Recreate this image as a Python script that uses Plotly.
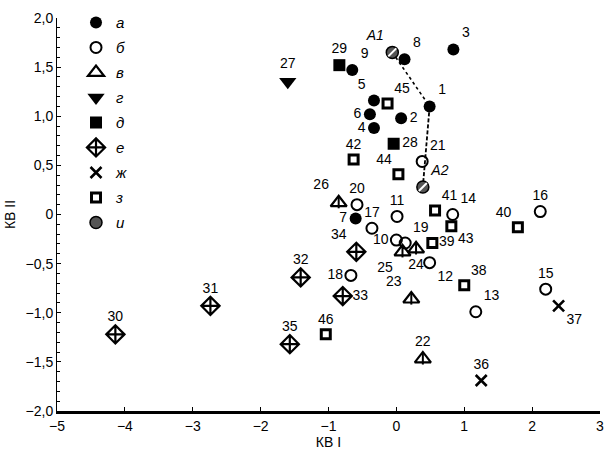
import plotly.graph_objects as go

# ---- data (КВ I, КВ II) ----
# а : filled circles
a_lab = ["1", "2", "3", "4", "5", "6", "7", "8", "9"]
a_x = [0.49, 0.07, 0.84, -0.33, -0.33, -0.39, -0.60, 0.12, -0.65]
a_y = [1.10, 0.98, 1.68, 0.88, 1.16, 1.02, -0.04, 1.58, 1.47]
# б : open circles
b_lab = ["10", "11", "12", "13", "14", "15", "16", "17", "18", "19", "20", "21"]
b_x = [0.00, 0.01, 0.49, 1.17, 0.83, 2.20, 2.12, -0.36, -0.67, 0.13, -0.58, 0.38]
b_y = [-0.26, -0.02, -0.49, -0.99, 0.00, -0.76, 0.03, -0.14, -0.62, -0.29, 0.10, 0.54]
# в : triangles with bar
v_lab = ["22", "23", "24", "25", "26"]
v_x = [0.39, 0.22, 0.29, 0.09, -0.85]
v_y = [-1.47, -0.86, -0.35, -0.38, 0.12]
# г : filled down triangles
g_lab = ["27"]
g_x = [-1.60]
g_y = [1.35]
# д : filled squares
d_lab = ["28", "29"]
d_x = [-0.04, -0.84]
d_y = [0.72, 1.52]
# е : diamonds with cross
e_lab = ["30", "31", "32", "33", "34", "35"]
e_x = [-4.14, -2.74, -1.41, -0.79, -0.59, -1.57]
e_y = [-1.22, -0.93, -0.64, -0.83, -0.38, -1.32]
# ж : crosses
zh_lab = ["36", "37"]
zh_x = [1.25, 2.39]
zh_y = [-1.69, -0.93]
# з : open squares
z_lab = ["38", "39", "40", "41", "42", "43", "44", "45", "46"]
z_x = [1.00, 0.53, 1.79, 0.57, -0.63, 0.81, 0.03, -0.13, -1.04]
z_y = [-0.72, -0.29, -0.13, 0.04, 0.56, -0.12, 0.41, 1.13, -1.22]
# и : hatched circles
i_lab = ["A1", "A2"]
i_x = [-0.06, 0.39]
i_y = [1.65, 0.28]

x_ticks = [-5, -4, -3, -2, -1, 0, 1, 2, 3]
x_ticktext = ["\u22125", "\u22124", "\u22123", "\u22122", "\u22121", "0", "1", "2", "3"]
y_ticks = [-2.0, -1.5, -1.0, -0.5, 0.0, 0.5, 1.0, 1.5, 2.0]
y_ticktext = ["\u22122,0", "\u22121,5", "\u22121,0", "\u22120,5", "0", "0,5", "1,0", "1,5", "2,0"]

# ---- label placement (style) ----
a_pos = ["top right", "middle right", "top right", "middle left", "top left",
         "middle left", "middle left", "top right", "top right"]
b_pos = ["middle left", "top center", "bottom right", "top right", "top right", "top center",
         "top center", "top center", "middle left", "top right", "top center", "top right"]
v_pos = ["top center", "top left", "bottom center", "bottom left", "top left"]
g_pos = ["top center"]
d_pos = ["middle right", "top center"]
e_pos = ["top center", "top center", "top center", "middle right", "top left", "top center"]
zh_pos = ["top center", "bottom right"]
z_pos = ["top right", "middle right", "top left", "top right", "top center",
         "bottom right", "top left", "top right", "top center"]
i_pos = ["top left", "top right"]

FONT = "Liberation Sans, Arial, sans-serif"
fig = go.Figure()

# connecting lines A1 -> 1 -> A2
fig.add_trace(go.Scatter(x=[i_x[0], a_x[0]], y=[i_y[0], a_y[0]], mode="lines",
                         line=dict(color="black", width=1.6, dash="dot"),
                         showlegend=False, hoverinfo="skip"))
fig.add_trace(go.Scatter(x=[a_x[0], i_x[1]], y=[a_y[0], i_y[1]], mode="lines",
                         line=dict(color="black", width=1.8, dash="4px,2px"),
                         showlegend=False, hoverinfo="skip"))


def add(name, xs, ys, labs, pos, marker, group):
    fig.add_trace(go.Scatter(
        x=xs, y=ys, text=labs, textposition=pos, mode="markers+text",
        name=name, legendgroup=group, marker=marker,
        textfont=dict(family=FONT, size=14, color="black"),
        cliponaxis=False))


add("<i>а</i>", a_x, a_y, a_lab, a_pos,
    dict(symbol="circle", size=12, color="black", line=dict(width=0)), "a")
add("<i>б</i>", b_x, b_y, b_lab, b_pos,
    dict(symbol="circle-open", size=11, color="black", line=dict(width=2)), "b")
add("<i>в</i>", v_x, v_y, v_lab, v_pos,
    dict(symbol="triangle-up-open", size=14, color="black", line=dict(width=2.2)), "c")
fig.add_trace(go.Scatter(x=v_x, y=v_y, mode="markers", showlegend=False, legendgroup="c",
                         marker=dict(symbol="line-ns-open", size=8, color="black",
                                     line=dict(width=2, color="black")), hoverinfo="skip"))
add("<i>г</i>", g_x, g_y, g_lab, g_pos,
    dict(symbol="triangle-down", size=15, color="black", line=dict(width=0)), "d")
add("<i>д</i>", d_x, d_y, d_lab, d_pos,
    dict(symbol="square", size=12, color="black", line=dict(width=0)), "e")
add("<i>е</i>", e_x, e_y, e_lab, e_pos,
    dict(symbol="diamond-cross-open", size=14, color="black", line=dict(width=2.2)), "f")
add("<i>ж</i>", zh_x, zh_y, zh_lab, zh_pos,
    dict(symbol="x-thin-open", size=11, color="black", line=dict(width=2.6)), "g")
add("<i>з</i>", z_x, z_y, z_lab, z_pos,
    dict(symbol="square-open", size=9, color="black", line=dict(width=3)), "h")
add("<i>и</i>", i_x, i_y, ["<i>" + s + "</i>" for s in i_lab], i_pos,
    dict(symbol="circle", size=12, color="#555555", line=dict(width=1.5, color="black")), "i")
fig.add_trace(go.Scatter(x=i_x, y=i_y, mode="markers", showlegend=False, legendgroup="i",
                         marker=dict(symbol="line-ne-open", size=8, color="white",
                                     line=dict(width=2, color="white")), hoverinfo="skip"))

fig.update_layout(
    width=606, height=460,
    margin=dict(l=57, r=6, t=11, b=49),
    paper_bgcolor="white", plot_bgcolor="white",
    font=dict(family=FONT, size=14, color="black"),
    showlegend=True,
    legend=dict(x=0.035, y=1.03, xanchor="left", yanchor="top", maxheight=460,
                bgcolor="rgba(0,0,0,0)", traceorder="grouped", tracegroupgap=2.5,
                font=dict(family=FONT, size=15, color="black"), itemwidth=30),
    xaxis=dict(range=[-5, 3], tickvals=x_ticks, ticktext=x_ticktext, automargin=False,
               showgrid=False, zeroline=False, showline=True, linecolor="black",
               linewidth=3, ticks="inside", ticklen=4, tickwidth=1, tickcolor="black",
               title=dict(text="КВ I", font=dict(size=14), standoff=3),
               tickfont=dict(size=14)),
    yaxis=dict(range=[-2, 2], tickvals=y_ticks, ticktext=y_ticktext, automargin=False,
               showgrid=False, zeroline=False, showline=True, linecolor="black",
               linewidth=1, ticks="inside", ticklen=4, tickwidth=1, tickcolor="black",
               minor=dict(dtick=0.1, ticks="inside", ticklen=3, tickcolor="black", showgrid=False),
               title=dict(text="КВ II", font=dict(size=14), standoff=6),
               tickfont=dict(size=14)),
)

fig.write_html("out.html", config={"displayModeBar": False},
               post_script="document.body.style.margin='0px';")
